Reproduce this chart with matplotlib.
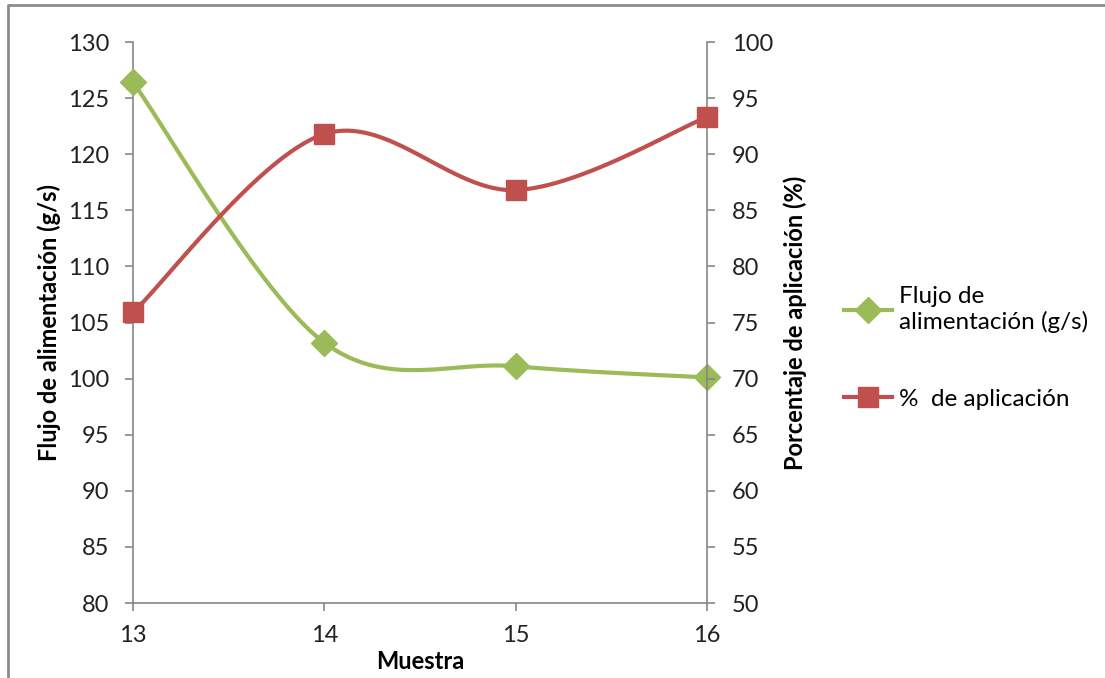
import matplotlib
matplotlib.use("Agg")
import matplotlib.pyplot as plt
import numpy as np
from matplotlib.lines import Line2D

# Data
muestra = [13, 14, 15, 16]
flujo = [126.4, 103.2, 101.1, 100.1]
aplicacion = [75.9, 91.8, 86.8, 93.3]

left_ticks = [80, 85, 90, 95, 100, 105, 110, 115, 120, 125, 130]
right_ticks = [50, 55, 60, 65, 70, 75, 80, 85, 90, 95, 100]

GREEN = "#9BBB59"
RED = "#C0504D"
GRAY = "#868686"

plt.rcParams["font.family"] = ["Lato", "DejaVu Sans"]


def smooth(xs, ys, n=40):
    # Excel-style smoothed line: cubic Bezier through points (Catmull-Rom controls)
    pts = np.column_stack([xs, ys]).astype(float)
    out = []
    for i in range(len(pts) - 1):
        p0 = pts[max(i - 1, 0)]
        p1 = pts[i]
        p2 = pts[i + 1]
        p3 = pts[min(i + 2, len(pts) - 1)]
        c1 = p1 + (p2 - p0) / 6
        c2 = p2 - (p3 - p1) / 6
        t = np.linspace(0, 1, n)[:, None]
        seg = ((1 - t) ** 3) * p1 + 3 * ((1 - t) ** 2) * t * c1 + 3 * (1 - t) * t ** 2 * c2 + t ** 3 * p2
        out.append(seg if i == 0 else seg[1:])
    seg = np.vstack(out)
    return seg[:, 0], seg[:, 1]


fig = plt.figure(figsize=(11.05, 6.78), dpi=100)
ax = fig.add_axes([133 / 1105, 75 / 678, 574 / 1105, 561 / 678])
ax2 = ax.twinx()

sx, sy = smooth(muestra, flujo)
ax.plot(sx, sy, color=GREEN, linewidth=3, zorder=3, solid_capstyle="round",
        clip_on=False)
ax.plot(muestra, flujo, linestyle="none", marker="D", markersize=13,
        color=GREEN, zorder=4, clip_on=False)

rx, ry = smooth(muestra, aplicacion)
ax2.plot(rx, ry, color=RED, linewidth=3, zorder=3, solid_capstyle="round",
         clip_on=False)
ax2.plot(muestra, aplicacion, linestyle="none", marker="s", markersize=14,
         color=RED, zorder=4, clip_on=False)

ax.set_xlim(13, 16)
ax.set_ylim(80, 130)
ax2.set_ylim(50, 100)
ax.set_xticks(muestra)
ax.set_yticks(left_ticks)
ax2.set_yticks(right_ticks)

for a in (ax, ax2):
    for s in a.spines.values():
        s.set_visible(False)
ax.spines["left"].set_visible(True)
ax.spines["bottom"].set_visible(True)
ax2.spines["right"].set_visible(True)
for s in (ax.spines["left"], ax.spines["bottom"], ax2.spines["right"]):
    s.set_color(GRAY)
    s.set_linewidth(1.2)

ax.tick_params(axis="both", colors=GRAY, labelcolor="#222222", labelsize=17,
               length=6, width=1.2, direction="out")
ax.tick_params(axis="y", pad=11)
ax.tick_params(axis="x", pad=10)
ax2.tick_params(axis="y", colors=GRAY, labelcolor="#222222", labelsize=17,
                length=6, width=1.2, direction="out", pad=12)

ax.set_ylabel("Flujo de alimentación (g/s)", fontsize=17, fontweight="bold")
ax.yaxis.set_label_coords(-72 / 574, 0.5)
ax2.set_ylabel("Porcentaje de aplicación (%)", fontsize=17, fontweight="bold")
ax2.yaxis.set_label_coords(1 + 76 / 574, 0.5)
ax.set_xlabel("Muestra", fontsize=17, fontweight="bold")
ax.xaxis.set_label_coords(0.5, -47 / 561)

handles = [
    Line2D([], [], color=GREEN, linewidth=3, marker="D", markersize=13),
    Line2D([], [], color=RED, linewidth=3, marker="s", markersize=14),
]
fig.legend(handles, ["Flujo de\nalimentación (g/s)", "%  de aplicación"],
           loc="center left", bbox_to_anchor=(822 / 1105, 1 - 348 / 678),
           frameon=False, fontsize=17.5, handlelength=2.0, handletextpad=0.25,
           labelspacing=2.3)

# outer chart border (cropped on the right and bottom)
fig.add_artist(Line2D([8 / 1105, 8 / 1105, 1.05], [-0.05, 1 - 5 / 678, 1 - 5 / 678],
                      transform=fig.transFigure, color="#8C8C8C", linewidth=2))

fig.savefig("out.png", dpi=100)
